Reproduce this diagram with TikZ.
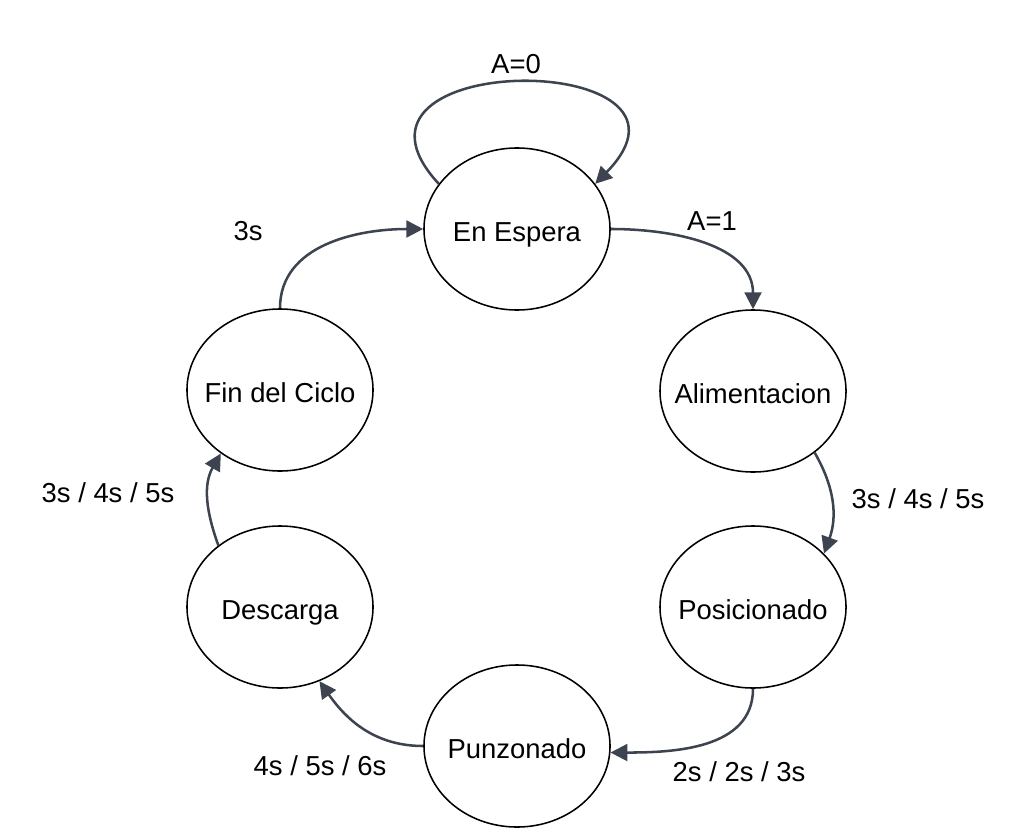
\documentclass[tikz,border=0pt]{standalone}
\usepackage{fontspec}
\setmainfont{Liberation Sans}
\usetikzlibrary{shapes.geometric, arrows.meta}
\definecolor{slate}{RGB}{61,68,80}

\begin{document}
\begin{tikzpicture}[x=0.025cm,y=0.025cm,
    state/.style={ellipse,draw=black,line width=1.1pt,minimum width=4.65cm,minimum height=4.05cm,inner sep=-1.6cm,
        text height=18pt,text depth=0pt,font=\fontsize{19.5}{23}\selectfont},
    trans/.style={draw=slate,line width=1.8pt,-{Triangle[length=0.42cm,width=0.42cm]}},
    lbl/.style={font=\fontsize{19.5}{23}\selectfont,inner sep=0pt}]
\useasboundingbox (0,0) rectangle (1030,-827);

% States
\node[state] (wait)   at (517,-229) {En Espera};
\node[state] (feed)   at (753,-391) {Alimentacion};
\node[state] (pos)    at (753,-607) {Posicionado};
\node[state] (punch)  at (517,-746) {Punzonado};
\node[state] (unload) at (280,-607) {Descarga};
\node[state] (finish) at (280,-390) {Fin del Ciclo};

% Transitions
\draw[trans] (wait.150) .. controls +(-126,136) and +(132,135) .. (wait.30); % self loop
\draw[trans] (wait.east) to[out=0,in=90] (feed.north);
\draw[trans] (feed.-45) to[out=-60,in=70] (pos.37);
\draw[trans] (pos.south) to[out=-90,in=0] (punch.-4);
\draw[trans] (punch.west) to[out=180,in=-55] (unload.-62);
\draw[trans] (unload.135) to[out=110,in=-120] (finish.-133);
\draw[trans] (finish.north) to[out=90,in=180] (wait.west);

% Labels
\node[lbl] (l0) at (516,-64) {A=0};
\node[lbl] (l1) at (712,-221) {A=1};
\node[lbl] (l2) at (918,-499) {3s / 4s / 5s};
\node[lbl] (l3) at (739,-772) {2s / 2s / 3s};
\node[lbl] (l4) at (320,-766) {4s / 5s / 6s};
\node[lbl] (l5) at (108,-493) {3s / 4s / 5s};
\node[lbl] (l6) at (248,-231) {3s};
\end{tikzpicture}
\end{document}
